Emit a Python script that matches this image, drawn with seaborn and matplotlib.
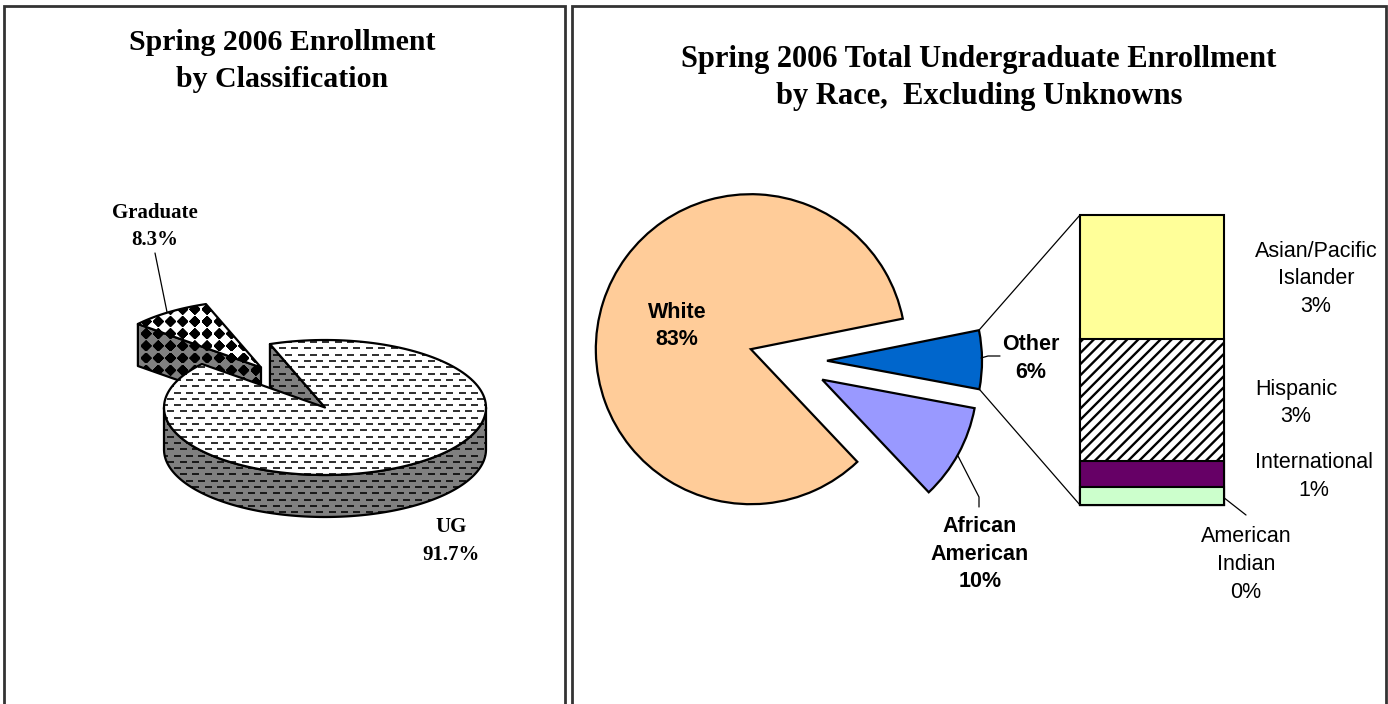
import numpy as np
import pandas as pd
import seaborn as sns
import matplotlib.pyplot as plt
from matplotlib.patches import Polygon

# left chart
class_names = ['UG', 'Graduate']
class_values = [91.7, 8.3]
class_labels = ['UG\n91.7%', 'Graduate\n8.3%']

# right chart, main pie
race_names = ['Other', 'White', 'African American']
race_values = [6.1, 83.9, 10.0]
race_labels = ['Other\n6%', 'White\n83%', 'African\nAmerican\n10%']
race_colors = ['#0066CC', '#FFCC99', '#9999FF']

# right chart, the stacked bar that breaks down Other
other_names = ['Asian/Pacific Islander', 'Hispanic', 'International', 'American Indian']
other_values = [2.6, 2.57, 0.55, 0.38]
other_labels = ['Asian/Pacific\nIslander\n3%', 'Hispanic\n3%', 'International\n1%', 'American\nIndian\n0%']
other_colors = ['#FFFF99', '#FFFFFF', '#660066', '#CCFFCC']
other_hatch = ['', '///', '', '']

W, H = 1388, 704

sns.set_theme(style='white')
plt.rcParams['hatch.linewidth'] = 1.7
plt.rcParams['hatch.color'] = 'black'
SERIF = 'Liberation Serif'
SANS = 'Liberation Sans'

fig = plt.figure(figsize=(W / 100, H / 100), dpi=100, facecolor='white')
ax = fig.add_axes([0, 0, 1, 1])


def py(y):
    return H - y


# fill patterns on a pixel grid
gx, gy = np.meshgrid(np.arange(W) + 0.5, np.arange(H) + 0.5)

row = np.floor((gy - 1.0) / 6.3)
dash = ((gy - 1.0) % 6.3 < 2.0) & ((gx + 6.2 * (row % 2)) % 12.4 < 7.0)
dash_img = np.zeros((H, W, 4))
dash_img[..., 3] = dash * 0.8

dx = np.abs((gx - 170.5 + 6.1) % 12.2 - 6.1)
dy = np.abs((gy - 321.5 + 6.1) % 12.2 - 6.1)
diamond_img = np.zeros((H, W, 4))
diamond_img[..., 3] = np.clip(6.6 - (dx + dy), 0, 1) * (np.maximum(dx, dy) < 5.4)


def textured(points, face, texture, z):
    pts = [(x, py(y)) for x, y in points]
    ax.add_patch(Polygon(pts, closed=True, facecolor=face, edgecolor='none', zorder=z))
    im = ax.imshow(texture, extent=(0, W, 0, H), origin='upper', aspect='auto',
                   interpolation='nearest', zorder=z + 0.1)
    clip = Polygon(pts, closed=True, transform=ax.transData)
    im.set_clip_path(clip)
    ax.add_patch(Polygon(pts, closed=True, fill=False, edgecolor='black', lw=1.6,
                         joinstyle='round', zorder=z + 0.2))


# 3D pie on the left, angles come from the values
cx, cy, a, b, depth = 325, 407.5, 161, 67.5, 42
shift_x, shift_y = -64, -40
grad_start = 110
grad_end = grad_start + class_values[1] / sum(class_values) * 360


def rim(t, ox=0, oy=0):
    t = np.radians(t)
    return cx + ox + a * np.cos(t), cy + oy - b * np.sin(t)


def arc(t1, t2, ox=0, oy=0):
    ts = np.linspace(t1, t2, 160)
    return [rim(t, ox, oy) for t in ts]


# graduate slice, pulled out
gc = (cx + shift_x, cy + shift_y)
c1 = rim(grad_end, shift_x, shift_y)
textured([c1, gc, (gc[0], gc[1] + depth), (c1[0], c1[1] + depth)], '#808080', diamond_img, 2)
textured([gc] + arc(grad_start, grad_end, shift_x, shift_y), 'white', diamond_img, 3)

# cut face, outer wall and top of UG
c2 = rim(grad_start)
textured([c2, (cx, cy), (cx, cy + depth), (c2[0], c2[1] + depth)], '#808080', dash_img, 4)
wall = arc(180, 360) + arc(360, 180, 0, depth)
textured(wall, '#808080', dash_img, 5)
textured([(cx, cy)] + arc(grad_end, grad_start + 360), 'white', dash_img, 6)

# pie of the right chart
wedges, _ = ax.pie(race_values, colors=race_colors, startangle=-10.6, radius=155,
                   center=(788, py(361)), explode=[39, 39, 39], frame=True,
                   wedgeprops={'edgecolor': 'black', 'linewidth': 1.6, 'joinstyle': 'miter'})
ax.set_xlim(0, W)
ax.set_ylim(0, H)
ax.set_aspect('auto')
ax.axis('off')

# stacked bar
bar_left, bar_right, bar_top, bar_bottom = 1080, 1224, 215, 505
ax_bar = fig.add_axes([bar_left / W, py(bar_bottom) / H, (bar_right - bar_left) / W, (bar_bottom - bar_top) / H])
df = pd.DataFrame({'name': other_names, 'value': other_values})
df['top'] = df['value'][::-1].cumsum()[::-1]
for i, r in df.iterrows():
    p = sns.barplot(x=['Other'], y=[r['top']], ax=ax_bar, color=other_colors[i], saturation=1, width=1,
                    edgecolor='black', linewidth=1.5, hatch=other_hatch[i], zorder=i + 2)
    for bar in p.patches:
        bar.set_clip_on(False)
ax_bar.set_xlim(-0.5, 0.5)
ax_bar.set_ylim(0, df['top'].iloc[0])
ax_bar.axis('off')

# lines from the Other slice to the bar
w = wedges[0]
for theta, yb in [(w.theta2, bar_top), (w.theta1, bar_bottom)]:
    sx = w.center[0] + w.r * np.cos(np.radians(theta))
    sy = w.center[1] + w.r * np.sin(np.radians(theta))
    ax.plot([sx, bar_left], [sy, py(yb)], color='black', lw=0.9, zorder=1)

# leader lines
leaders = [
    ([155, 167], [253, 312]),
    ([981, 988, 1000], [358, 356, 356]),
    ([958, 979, 979], [456, 497, 507]),
    ([1223, 1246], [497, 515]),
]
for xs, ys in leaders:
    ax.plot(xs, [py(v) for v in ys], color='black', lw=0.9, zorder=8)

# panel frames
for xs, ys, lw in [([4, 4, 565, 565], [H, 5.5, 5.5, H], 2.0),
                   ([572, 572, 1386.5, 1386.5], [H, 5.5, 5.5, H], 2.0)]:
    ax.plot(xs, [py(v) for v in ys], color='#333333', lw=lw, zorder=9, solid_joinstyle='miter')

# titles
ax.text(282, py(61), 'Spring 2006 Enrollment\nby Classification', family=SERIF, weight='bold',
        fontsize=21.5, ha='center', va='center', color='black', linespacing=1.44, zorder=10)
ax.text(979, py(78), 'Spring 2006 Total Undergraduate Enrollment\nby Race,  Excluding Unknowns', family=SERIF,
        weight='bold', fontsize=22, ha='center', va='center', color='black', linespacing=1.38, zorder=10)

# labels
for txt, x, y in zip(class_labels, [451, 155], [541, 226.5]):
    ax.text(x, py(y), txt, family=SERIF, weight='bold', fontsize=15, ha='center', va='center',
            color='black', linespacing=1.5, zorder=10)
for txt, x, y in zip(race_labels, [1031, 677, 980], [358.5, 326, 554]):
    ax.text(x, py(y), txt, family=SANS, weight='bold', fontsize=15.5, ha='center', va='center',
            color='black', linespacing=1.42, zorder=10)
for txt, x, y in zip(other_labels, [1316, 1296, 1314, 1246], [279, 403, 476.5, 564.5]):
    ax.text(x, py(y), txt, family=SANS, fontsize=15.5, ha='center', va='center',
            color='black', linespacing=1.42, zorder=10)

fig.savefig('out.png', dpi=100, facecolor='white')
